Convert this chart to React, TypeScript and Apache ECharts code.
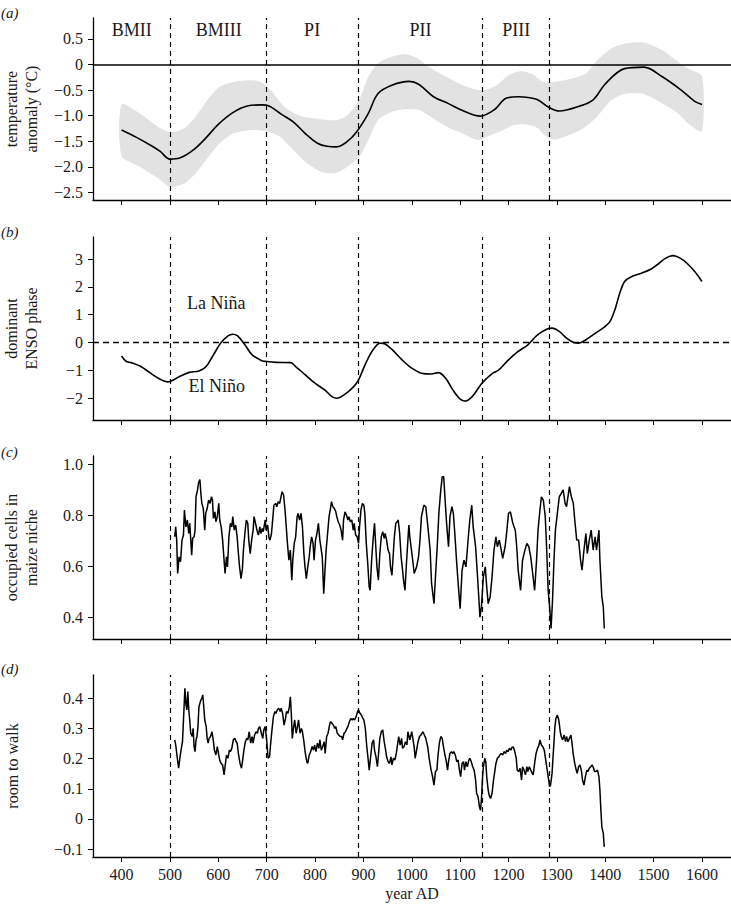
import React, { useEffect, useRef } from 'react';
import * as echarts from 'echarts';

const SERIF = '"Liberation Serif", "Times New Roman", Times, serif';
const X_MIN = 341;
const X_MAX = 1660;

const xTicks = [400, 500, 600, 700, 800, 900, 1000, 1100, 1200, 1300, 1400, 1500, 1600];
const periodBoundaries = [500, 700, 890, 1145, 1285];
const periodNames = ['BMII', 'BMIII', 'PI', 'PII', 'PIII'];
const periodNameYears = [421, 601, 794, 1018, 1216];
const periodNameLevel = 0.68;

const tempTicks = [-2.5, -2.0, -1.5, -1.0, -0.5, 0, 0.5];
const ensoTicks = [-2, -1, 0, 1, 2, 3];
const maizeTicks = [0.4, 0.6, 0.8, 1.0];
const walkTicks = [-0.1, 0, 0.1, 0.2, 0.3, 0.4];

// (a) temperature anomaly (°C): mean and uncertainty band
const tempMean: [number, number][] = [
  [400, -1.28], [430, -1.42], [460, -1.58], [480, -1.70], [500, -1.85], [520, -1.83], [550, -1.66],
  [575, -1.43], [600, -1.17], [630, -0.94], [660, -0.81], [690, -0.79], [705, -0.81], [730, -0.97],
  [755, -1.12], [780, -1.35], [805, -1.54], [825, -1.60], [845, -1.61], [865, -1.52], [885, -1.33],
  [910, -0.96], [930, -0.57], [960, -0.40], [995, -0.33], [1015, -0.39], [1045, -0.63], [1075, -0.76],
  [1105, -0.90], [1142, -1.01], [1170, -0.89], [1195, -0.66], [1220, -0.63], [1258, -0.68], [1282, -0.83],
  [1305, -0.91], [1345, -0.82], [1375, -0.69], [1400, -0.38], [1440, -0.08], [1480, -0.05], [1518, -0.24],
  [1557, -0.50], [1585, -0.72], [1600, -0.78],
];
const tempUpper: [number, number][] = [
  [400, -0.78], [438, -0.96], [476, -1.22], [500, -1.32], [529, -1.25], [553, -1.02], [577, -0.70],
  [602, -0.44], [631, -0.34], [669, -0.31], [688, -0.34], [708, -0.50], [737, -0.83], [766, -0.99],
  [804, -1.06], [843, -1.09], [867, -0.99], [891, -0.70], [910, -0.24], [930, 0.02], [958, 0.15],
  [988, 0.20], [1012, 0.12], [1036, -0.05], [1065, -0.21], [1098, -0.37], [1132, -0.49], [1151, -0.50],
  [1176, -0.40], [1200, -0.21], [1224, -0.13], [1248, -0.18], [1272, -0.34], [1296, -0.34], [1325, -0.29],
  [1359, -0.18], [1383, 0.08], [1412, 0.31], [1441, 0.41], [1479, 0.43], [1518, 0.28], [1547, 0.08],
  [1571, -0.08], [1600, -0.23],
];
const tempLower: [number, number][] = [
  [400, -1.79], [438, -2.00], [476, -2.23], [500, -2.39], [529, -2.33], [553, -2.13], [577, -1.84],
  [602, -1.55], [631, -1.35], [669, -1.28], [698, -1.30], [727, -1.41], [756, -1.68], [785, -1.94],
  [814, -2.10], [843, -2.12], [867, -2.00], [891, -1.81], [910, -1.48], [930, -1.09], [958, -0.93],
  [988, -0.87], [1016, -0.89], [1045, -1.06], [1074, -1.22], [1103, -1.34], [1137, -1.48], [1156, -1.41],
  [1180, -1.32], [1209, -1.19], [1233, -1.17], [1258, -1.23], [1278, -1.41], [1296, -1.47], [1325, -1.38],
  [1354, -1.25], [1383, -1.02], [1412, -0.70], [1441, -0.57], [1479, -0.57], [1518, -0.76], [1547, -0.93],
  [1576, -1.19], [1600, -1.30],
];

// (b) dominant ENSO phase
const ensoPhase: [number, number][] = [
  [400, -0.48], [410, -0.68], [420, -0.72], [440, -0.86], [460, -1.10], [480, -1.32], [495, -1.41],
  [500, -1.40], [520, -1.22], [540, -1.07], [560, -1.02], [575, -0.86], [590, -0.44], [605, -0.02],
  [620, 0.24], [630, 0.30], [640, 0.24], [655, -0.08], [670, -0.44], [690, -0.65], [700, -0.68],
  [720, -0.71], [750, -0.72], [760, -0.86], [780, -1.16], [800, -1.46], [820, -1.70], [835, -1.94],
  [845, -2.00], [860, -1.88], [880, -1.58], [890, -1.34], [905, -0.74], [920, -0.26], [935, -0.02],
  [945, -0.05], [960, -0.26], [980, -0.62], [1000, -0.92], [1020, -1.10], [1040, -1.13], [1055, -1.08],
  [1070, -1.28], [1085, -1.70], [1100, -2.03], [1110, -2.10], [1125, -1.94], [1145, -1.46], [1165, -1.13],
  [1180, -0.98], [1200, -0.62], [1220, -0.32], [1240, -0.08], [1260, 0.28], [1280, 0.49], [1290, 0.52],
  [1305, 0.40], [1320, 0.16], [1335, 0.00], [1345, -0.02], [1360, 0.10], [1380, 0.34], [1400, 0.58],
  [1410, 0.76], [1420, 1.18], [1430, 1.77], [1440, 2.19], [1455, 2.37], [1475, 2.49], [1495, 2.64],
  [1510, 2.83], [1525, 3.03], [1540, 3.12], [1555, 3.03], [1570, 2.83], [1585, 2.55], [1600, 2.19],
];
const laNinaLabel: [number, number] = [596, 1.42];
const elNinoLabel: [number, number] = [597, -1.55];

// (c) occupied cells in maize niche
const maizeNiche: [number, number][] = [
  [510, 0.717], [512, 0.756], [514, 0.704], [516, 0.573], [519, 0.638], [522, 0.619], [525, 0.704], [528, 0.724],
  [530, 0.822], [533, 0.756], [536, 0.783], [539, 0.730], [541, 0.770], [545, 0.645], [547, 0.711], [550, 0.717],
  [552, 0.743], [554, 0.874], [557, 0.900], [559, 0.927], [562, 0.942], [564, 0.887], [566, 0.848], [569, 0.828],
  [572, 0.743], [574, 0.809], [577, 0.828], [580, 0.861], [583, 0.848], [586, 0.874], [588, 0.861], [590, 0.789],
  [593, 0.815], [595, 0.776], [598, 0.796], [601, 0.848], [603, 0.783], [606, 0.756], [609, 0.704], [612, 0.625],
  [614, 0.573], [617, 0.638], [619, 0.599], [622, 0.717], [625, 0.770], [628, 0.756], [630, 0.796], [633, 0.743],
  [636, 0.763], [639, 0.717], [641, 0.665], [644, 0.599], [647, 0.553], [650, 0.593], [652, 0.665], [655, 0.730],
  [658, 0.783], [661, 0.770], [663, 0.704], [666, 0.651], [669, 0.704], [672, 0.743], [674, 0.796], [677, 0.770],
  [680, 0.743], [683, 0.724], [686, 0.756], [688, 0.730], [691, 0.750], [693, 0.737], [697, 0.783], [699, 0.743],
  [702, 0.763], [705, 0.711], [707, 0.704], [710, 0.730], [713, 0.796], [715, 0.841], [719, 0.848], [721, 0.835],
  [724, 0.855], [727, 0.848], [729, 0.868], [732, 0.894], [735, 0.881], [738, 0.822], [741, 0.743], [743, 0.691],
  [746, 0.625], [749, 0.665], [752, 0.547], [754, 0.625], [757, 0.691], [760, 0.717], [763, 0.796], [765, 0.809],
  [768, 0.783], [771, 0.809], [774, 0.756], [777, 0.651], [779, 0.605], [782, 0.553], [785, 0.599], [788, 0.638],
  [790, 0.678], [793, 0.717], [796, 0.691], [798, 0.625], [801, 0.704], [804, 0.730], [807, 0.770], [810, 0.704],
  [812, 0.678], [815, 0.638], [818, 0.494], [821, 0.599], [823, 0.665], [826, 0.730], [829, 0.796], [832, 0.828],
  [834, 0.855], [837, 0.835], [840, 0.828], [843, 0.815], [845, 0.796], [848, 0.776], [851, 0.763], [854, 0.743],
  [857, 0.704], [859, 0.783], [862, 0.815], [865, 0.802], [868, 0.783], [870, 0.796], [873, 0.776], [876, 0.783],
  [879, 0.743], [881, 0.770], [884, 0.724], [887, 0.717], [890, 0.691], [892, 0.756], [895, 0.822], [898, 0.848],
  [901, 0.841], [903, 0.809], [906, 0.691], [909, 0.612], [912, 0.520], [914, 0.507], [917, 0.625], [920, 0.704],
  [923, 0.770], [926, 0.665], [928, 0.599], [931, 0.547], [934, 0.651], [937, 0.717], [940, 0.737], [943, 0.711],
  [945, 0.730], [948, 0.704], [951, 0.665], [954, 0.651], [956, 0.599], [959, 0.566], [961, 0.625], [964, 0.717],
  [967, 0.770], [970, 0.776], [972, 0.783], [975, 0.730], [978, 0.638], [981, 0.586], [983, 0.547], [986, 0.507],
  [989, 0.612], [992, 0.704], [994, 0.763], [996, 0.717], [1002, 0.625], [1005, 0.573], [1010, 0.599], [1014, 0.638],
  [1017, 0.704], [1020, 0.796], [1025, 0.841], [1029, 0.835], [1034, 0.743], [1038, 0.665], [1041, 0.533], [1046, 0.455],
  [1049, 0.560], [1053, 0.691], [1056, 0.809], [1060, 0.901], [1063, 0.953], [1066, 0.953], [1069, 0.861], [1072, 0.770],
  [1076, 0.678], [1079, 0.796], [1083, 0.835], [1086, 0.809], [1089, 0.730], [1093, 0.612], [1096, 0.533], [1100, 0.435],
  [1104, 0.586], [1108, 0.625], [1112, 0.599], [1117, 0.717], [1120, 0.783], [1124, 0.841], [1127, 0.756], [1132, 0.678],
  [1136, 0.560], [1141, 0.402], [1144, 0.442], [1148, 0.560], [1152, 0.599], [1155, 0.520], [1158, 0.455], [1162, 0.481],
  [1166, 0.560], [1170, 0.665], [1174, 0.717], [1177, 0.678], [1181, 0.704], [1185, 0.665], [1188, 0.632], [1193, 0.678],
  [1196, 0.730], [1200, 0.809], [1204, 0.815], [1209, 0.770], [1214, 0.743], [1217, 0.678], [1220, 0.586], [1225, 0.507],
  [1229, 0.625], [1234, 0.665], [1238, 0.691], [1242, 0.678], [1246, 0.638], [1250, 0.573], [1254, 0.507], [1258, 0.625],
  [1261, 0.743], [1265, 0.822], [1268, 0.874], [1272, 0.861], [1276, 0.796], [1279, 0.665], [1282, 0.507], [1285, 0.442],
  [1288, 0.357], [1291, 0.468], [1294, 0.625], [1297, 0.743], [1301, 0.809], [1305, 0.874], [1309, 0.887], [1313, 0.901],
  [1317, 0.848], [1320, 0.835], [1326, 0.914], [1330, 0.874], [1334, 0.848], [1337, 0.783], [1341, 0.704], [1345, 0.704],
  [1349, 0.625], [1352, 0.586], [1356, 0.665], [1360, 0.730], [1363, 0.651], [1367, 0.704], [1371, 0.743], [1375, 0.665],
  [1379, 0.717], [1382, 0.665], [1387, 0.743], [1389, 0.625], [1393, 0.481], [1396, 0.442], [1398, 0.357],
];

// (d) room to walk
const roomToWalk: [number, number][] = [
  [510, 0.262], [512, 0.245], [515, 0.206], [518, 0.168], [521, 0.206], [523, 0.228], [526, 0.256], [529, 0.361],
  [531, 0.433], [533, 0.383], [535, 0.361], [537, 0.422], [539, 0.361], [541, 0.328], [543, 0.284], [546, 0.273],
  [548, 0.300], [550, 0.240], [552, 0.223], [554, 0.262], [556, 0.273], [558, 0.306], [560, 0.372], [562, 0.383],
  [564, 0.394], [566, 0.400], [568, 0.411], [570, 0.372], [572, 0.328], [575, 0.306], [577, 0.267], [579, 0.251],
  [581, 0.267], [584, 0.273], [587, 0.289], [590, 0.256], [592, 0.228], [595, 0.212], [598, 0.240], [601, 0.212],
  [603, 0.195], [606, 0.184], [609, 0.179], [612, 0.146], [614, 0.173], [617, 0.212], [620, 0.201], [623, 0.228],
  [625, 0.223], [628, 0.234], [631, 0.262], [634, 0.267], [637, 0.256], [639, 0.251], [642, 0.212], [645, 0.184],
  [648, 0.168], [650, 0.190], [653, 0.228], [656, 0.256], [659, 0.267], [661, 0.262], [664, 0.289], [667, 0.251],
  [670, 0.273], [672, 0.251], [675, 0.278], [678, 0.289], [681, 0.284], [683, 0.300], [686, 0.306], [689, 0.284],
  [692, 0.267], [694, 0.295], [697, 0.306], [700, 0.262], [703, 0.201], [706, 0.206], [708, 0.245], [711, 0.295],
  [714, 0.339], [717, 0.356], [719, 0.350], [722, 0.361], [725, 0.367], [728, 0.356], [730, 0.367], [733, 0.350],
  [736, 0.311], [739, 0.333], [741, 0.356], [744, 0.350], [747, 0.372], [749, 0.405], [751, 0.350], [753, 0.267],
  [755, 0.295], [758, 0.328], [761, 0.284], [763, 0.300], [766, 0.328], [769, 0.284], [772, 0.300], [774, 0.289],
  [777, 0.256], [780, 0.217], [783, 0.190], [785, 0.184], [788, 0.212], [791, 0.223], [794, 0.240], [797, 0.228],
  [799, 0.245], [802, 0.223], [805, 0.251], [808, 0.234], [810, 0.262], [813, 0.228], [816, 0.240], [819, 0.256],
  [821, 0.217], [824, 0.273], [827, 0.284], [830, 0.311], [832, 0.322], [835, 0.317], [838, 0.311], [841, 0.300],
  [843, 0.306], [846, 0.284], [849, 0.278], [852, 0.273], [855, 0.273], [857, 0.262], [860, 0.284], [863, 0.289],
  [866, 0.300], [868, 0.306], [871, 0.322], [874, 0.333], [877, 0.328], [879, 0.333], [882, 0.328], [885, 0.339],
  [888, 0.356], [890, 0.361], [893, 0.350], [896, 0.344], [899, 0.333], [901, 0.328], [904, 0.300], [907, 0.240],
  [910, 0.195], [912, 0.162], [915, 0.206], [918, 0.251], [921, 0.262], [923, 0.228], [926, 0.206], [929, 0.173],
  [932, 0.228], [934, 0.267], [937, 0.289], [940, 0.295], [943, 0.256], [946, 0.228], [948, 0.206], [951, 0.190],
  [954, 0.184], [957, 0.206], [959, 0.179], [962, 0.201], [965, 0.195], [968, 0.217], [970, 0.240], [973, 0.273],
  [976, 0.245], [979, 0.267], [981, 0.234], [984, 0.239], [987, 0.256], [990, 0.245], [992, 0.289], [996, 0.262],
  [1000, 0.289], [1005, 0.239], [1007, 0.201], [1010, 0.228], [1013, 0.256], [1016, 0.273], [1019, 0.278], [1023, 0.289],
  [1026, 0.278], [1029, 0.267], [1033, 0.239], [1036, 0.201], [1040, 0.162], [1043, 0.140], [1046, 0.112], [1049, 0.157],
  [1052, 0.162], [1054, 0.206], [1057, 0.251], [1060, 0.273], [1063, 0.267], [1065, 0.245], [1068, 0.217], [1071, 0.195],
  [1074, 0.162], [1076, 0.190], [1079, 0.217], [1082, 0.223], [1085, 0.217], [1087, 0.223], [1090, 0.212], [1093, 0.190],
  [1096, 0.195], [1098, 0.168], [1101, 0.140], [1104, 0.184], [1107, 0.190], [1109, 0.162], [1112, 0.190], [1115, 0.173],
  [1118, 0.195], [1120, 0.201], [1123, 0.190], [1126, 0.173], [1129, 0.162], [1132, 0.129], [1134, 0.085], [1137, 0.074],
  [1140, 0.040], [1142, 0.029], [1144, 0.063], [1146, 0.129], [1148, 0.173], [1151, 0.201], [1153, 0.190], [1155, 0.140],
  [1158, 0.096], [1160, 0.079], [1163, 0.068], [1166, 0.085], [1169, 0.129], [1172, 0.162], [1174, 0.184], [1177, 0.201],
  [1180, 0.206], [1182, 0.212], [1185, 0.217], [1188, 0.212], [1191, 0.223], [1194, 0.217], [1196, 0.228], [1199, 0.223],
  [1202, 0.234], [1205, 0.228], [1207, 0.237], [1210, 0.239], [1213, 0.223], [1216, 0.201], [1218, 0.162], [1221, 0.157],
  [1224, 0.168], [1227, 0.129], [1229, 0.173], [1232, 0.162], [1235, 0.146], [1238, 0.173], [1240, 0.157], [1243, 0.173],
  [1246, 0.162], [1249, 0.151], [1251, 0.146], [1254, 0.184], [1257, 0.217], [1260, 0.234], [1263, 0.245], [1265, 0.262],
  [1268, 0.245], [1271, 0.239], [1274, 0.228], [1276, 0.206], [1279, 0.173], [1282, 0.140], [1285, 0.107], [1287, 0.112],
  [1290, 0.151], [1293, 0.228], [1296, 0.306], [1298, 0.333], [1301, 0.344], [1304, 0.328], [1307, 0.289], [1309, 0.273],
  [1312, 0.262], [1315, 0.278], [1318, 0.256], [1320, 0.273], [1323, 0.256], [1326, 0.267], [1329, 0.278], [1331, 0.256],
  [1334, 0.212], [1337, 0.184], [1340, 0.162], [1342, 0.151], [1345, 0.173], [1348, 0.179], [1351, 0.157], [1353, 0.129],
  [1356, 0.112], [1359, 0.140], [1362, 0.162], [1364, 0.157], [1367, 0.168], [1370, 0.173], [1373, 0.179], [1376, 0.168],
  [1378, 0.157], [1381, 0.157], [1384, 0.162], [1387, 0.140], [1389, 0.096], [1391, 0.029], [1393, -0.026], [1396, -0.048],
  [1398, -0.092],
];

const gridBase = { left: 93, width: 638, containLabel: false, outerBoundsMode: 'none' };
const grids = [
  { ...gridBase, top: 18, height: 182 },
  { ...gridBase, top: 237, height: 183 },
  { ...gridBase, top: 456, height: 183 },
  { ...gridBase, top: 675, height: 182 },
];

const fmt1 = (v: number) => (Math.abs(v) < 1e-9 ? '0' : v.toFixed(1).replace('-', '\u2212'));
const fmtInt = (v: number) => String(Math.round(v)).replace('-', '\u2212');
const fmtYear = (v: number) => String(Math.round(v));

const TEXT_COLOR = '#1a1a1a';

function makeXAxis(gridIndex: number, showLabel: boolean) {
  return {
    type: 'value',
    gridIndex,
    min: X_MIN,
    max: X_MAX,
    axisLine: { show: true, onZero: false, lineStyle: { color: '#000', width: 1.3 } },
    axisTick: { show: true, inside: false, length: 5, customValues: xTicks, lineStyle: { color: '#000', width: 1 } },
    axisLabel: {
      show: showLabel,
      customValues: xTicks,
      formatter: fmtYear,
      color: TEXT_COLOR,
      fontFamily: SERIF,
      fontSize: 16,
      margin: 9,
    },
    splitLine: { show: false },
    name: showLabel ? 'year AD' : '',
    nameLocation: 'middle',
    nameGap: 28,
    nameTextStyle: { color: TEXT_COLOR, fontFamily: SERIF, fontSize: 16 },
  };
}

function makeYAxis(
  gridIndex: number,
  min: number,
  max: number,
  ticks: number[],
  formatter: (v: number) => string,
  name: string,
  nameGap: number
) {
  return {
    type: 'value',
    gridIndex,
    min,
    max,
    axisLine: { show: true, onZero: false, lineStyle: { color: '#000', width: 1.3 } },
    axisTick: { show: true, inside: false, length: 5, customValues: ticks, lineStyle: { color: '#000', width: 1 } },
    axisLabel: {
      show: true,
      customValues: ticks,
      formatter,
      color: TEXT_COLOR,
      fontFamily: SERIF,
      fontSize: 16,
      margin: 10,
    },
    splitLine: { show: false },
    name,
    nameLocation: 'middle',
    nameRotate: 90,
    nameGap,
    nameTextStyle: { color: TEXT_COLOR, fontFamily: SERIF, fontSize: 16, lineHeight: 20 },
  };
}

const dashed = { type: [5, 4], color: '#000', width: 1.2 };

function boundaryMarkLine(extra: any[] = []) {
  return {
    silent: true,
    symbol: ['none', 'none'],
    label: { show: false },
    emphasis: { disabled: true },
    lineStyle: dashed,
    data: [...periodBoundaries.map((v) => ({ xAxis: v })), ...extra],
  };
}

const lineBase = {
  type: 'line',
  showSymbol: false,
  symbol: 'none',
  emphasis: { disabled: true },
  silent: true,
};

// Text annotations placed at data coordinates through the axes' scales
const annotationSeries = (axisIndex: number, items: { pos: [number, number]; text: string }[], fontSize: number) => ({
  type: 'custom',
  xAxisIndex: axisIndex,
  yAxisIndex: axisIndex,
  silent: true,
  z: 5,
  data: items.map((it, i) => [it.pos[0], it.pos[1], i]),
  renderItem: (_params: any, api: any) => {
    const p = api.coord([api.value(0), api.value(1)]);
    const item = items[api.value(2)];
    return {
      type: 'text',
      x: p[0],
      y: p[1],
      style: {
        text: item.text,
        fill: TEXT_COLOR,
        fontFamily: SERIF,
        fontSize,
        align: 'center',
        verticalAlign: 'middle',
      },
    };
  },
});

const panelLetter = (letter: string, y: number) => ({
  type: 'text',
  left: 1,
  top: y,
  style: {
    text: '(' + letter + ')',
    fontFamily: SERIF,
    fontSize: 15,
    fontStyle: 'italic',
    fill: TEXT_COLOR,
  },
});

export default function App() {
  const ref = useRef<HTMLDivElement>(null);

  useEffect(() => {
    if (!ref.current) return;
    const chart = echarts.init(ref.current, null, { renderer: 'svg' });

    const option: any = {
      animation: false,
      backgroundColor: '#ffffff',
      grid: grids,
      xAxis: [makeXAxis(0, false), makeXAxis(1, false), makeXAxis(2, false), makeXAxis(3, true)],
      yAxis: [
        makeYAxis(0, -2.65, 0.91, tempTicks, fmt1, 'temperature\nanomaly (\u00b0C)', 52),
        makeYAxis(1, -2.78, 3.79, ensoTicks, fmtInt, 'dominant\nENSO phase', 52),
        makeYAxis(2, 0.316, 1.034, maizeTicks, (v: number) => v.toFixed(1), 'occupied cells in\nmaize niche', 52),
        makeYAxis(3, -0.126, 0.477, walkTicks, fmt1, 'room to walk', 71),
      ],
      graphic: [panelLetter('a', 5), panelLetter('b', 224), panelLetter('c', 444), panelLetter('d', 661)],
      series: [
        {
          type: 'custom',
          xAxisIndex: 0,
          yAxisIndex: 0,
          silent: true,
          z: 1,
          data: [tempMean[0]],
          renderItem: (_params: any, api: any) => {
            const pts: number[][] = [];
            tempUpper.forEach((p) => pts.push(api.coord(p)));
            for (let i = tempLower.length - 1; i >= 0; i--) pts.push(api.coord(tempLower[i]));
            return {
              type: 'polygon',
              shape: { points: pts, smooth: 0.25 },
              style: { fill: '#e2e2e2', stroke: 'none' },
            };
          },
        },
        {
          ...lineBase,
          xAxisIndex: 0,
          yAxisIndex: 0,
          data: tempMean,
          smooth: 0.35,
          z: 3,
          lineStyle: { color: '#000', width: 1.6 },
          markLine: boundaryMarkLine([{ yAxis: 0, lineStyle: { type: 'solid', color: '#000', width: 1.5 } }]),
        },
        annotationSeries(
          0,
          periodNames.map((t, i) => ({ pos: [periodNameYears[i], periodNameLevel] as [number, number], text: t })),
          18
        ),
        {
          ...lineBase,
          xAxisIndex: 1,
          yAxisIndex: 1,
          data: ensoPhase,
          smooth: 0.35,
          z: 3,
          lineStyle: { color: '#000', width: 1.6 },
          markLine: boundaryMarkLine([{ yAxis: 0, lineStyle: { type: [6, 4], color: '#000', width: 1.3 } }]),
        },
        annotationSeries(
          1,
          [
            { pos: laNinaLabel, text: 'La Niña' },
            { pos: elNinoLabel, text: 'El Niño' },
          ],
          18
        ),
        {
          ...lineBase,
          xAxisIndex: 2,
          yAxisIndex: 2,
          data: maizeNiche,
          z: 3,
          lineStyle: { color: '#000', width: 1.5 },
          markLine: boundaryMarkLine(),
        },
        {
          ...lineBase,
          xAxisIndex: 3,
          yAxisIndex: 3,
          data: roomToWalk,
          z: 3,
          lineStyle: { color: '#000', width: 1.5 },
          markLine: boundaryMarkLine(),
        },
      ],
    };

    chart.setOption(option);
    return () => chart.dispose();
  }, []);

  return (
    <div
      ref={ref}
      style={{ position: 'absolute', left: 0, top: 0, width: 731, height: 908, background: '#fff' }}
    />
  );
}
